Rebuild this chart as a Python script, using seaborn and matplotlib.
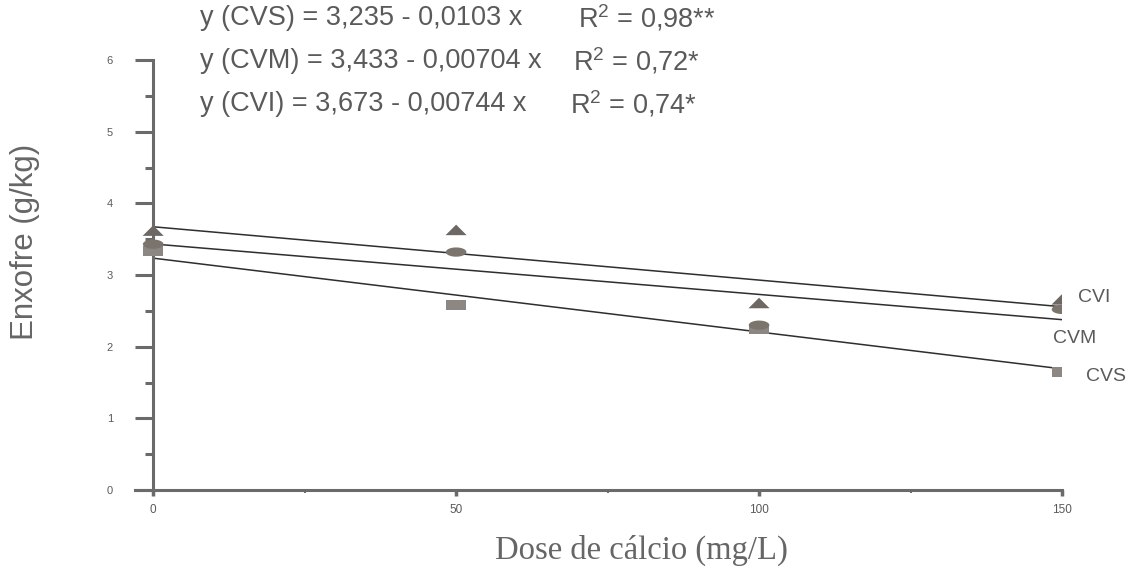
import matplotlib
matplotlib.use('Agg')
import matplotlib.pyplot as plt
from matplotlib.ticker import MultipleLocator
import numpy as np
import pandas as pd
import seaborn as sns

# doses (mg/L) and sulphur (g/kg)
doses = [0, 50, 100, 150]
cvi = [3.59, 3.60, 2.58, 2.63]
cvm = [3.43, 3.32, 2.30, 2.52]
cvs = [3.33, 2.58, 2.25, 1.65]

# fitted equations: intercept, slope
coef_cvs = (3.235, -0.0103)
coef_cvm = (3.433, -0.00704)
coef_cvi = (3.673, -0.00744)

sns.set_style('ticks')
plt.rcParams['font.family'] = ['Liberation Sans', 'DejaVu Sans']
plt.rcParams['mathtext.fontset'] = 'custom'
plt.rcParams['mathtext.rm'] = 'Liberation Sans'
plt.rcParams['mathtext.it'] = 'Liberation Sans'

grey = '#5a5a5a'

# flattened marker shapes like the scanned print
tri = [(-1, -0.3), (1, -0.3), (0, 0.7), (-1, -0.3)]
t = np.linspace(0, 2 * np.pi, 40)
ell = list(zip(np.cos(t), 0.45 * np.sin(t)))
sq = [(-1, -0.5), (1, -0.5), (1, 0.5), (-1, 0.5), (-1, -0.5)]

fig = plt.figure(figsize=(11.31, 5.68), dpi=100)
ax = fig.add_axes([135 / 1131, 1 - 490 / 568, 927 / 1131, 430 / 568])

xx = np.array([0, 150])
for (a, b) in [coef_cvi, coef_cvm, coef_cvs]:
    sns.lineplot(x=xx, y=a + b * xx, ax=ax, color='#2e2e2e', lw=1.1)

df = pd.DataFrame({'dose': doses * 3,
                   'S': cvs + cvm + cvi,
                   'grp': ['CVS'] * 4 + ['CVM'] * 4 + ['CVI'] * 4})
styles = {'CVS': (sq, '#8c8782', 210), 'CVM': (ell, '#7b746d', 220), 'CVI': (tri, '#6d6864', 230)}
for g in ['CVS', 'CVM', 'CVI']:
    m, c, s = styles[g]
    sns.scatterplot(data=df[df.grp == g], x='dose', y='S', marker=m, s=s,
                    color=c, edgecolor='none', ax=ax, zorder=3)

ax.set_xlim(-3, 150)
ax.set_ylim(0, 6)
ax.spines['left'].set_position(('data', 0))
ax.spines['left'].set_bounds(0, 6)
ax.spines['right'].set_visible(False)
ax.spines['top'].set_visible(False)
for sp in ['left', 'bottom']:
    ax.spines[sp].set_color('#6a6a6a')
    ax.spines[sp].set_linewidth(2.2)

ax.set_xticks([0, 50, 100, 150])
ax.set_xticklabels(['0', '50', '100', '150'])
ax.xaxis.set_minor_locator(MultipleLocator(25))
ax.yaxis.set_major_locator(MultipleLocator(1))
ax.yaxis.set_minor_locator(MultipleLocator(0.5))
ax.tick_params(axis='y', which='major', length=13, width=2.2, color='#6a6a6a',
               pad=16, labelsize=8, labelcolor=grey)
ax.tick_params(axis='y', which='minor', length=6, width=2.2, color='#6a6a6a')
ax.tick_params(axis='x', which='major', length=4, width=2.5, color='#6a6a6a',
               pad=6, labelsize=8.5, labelcolor=grey)
ax.tick_params(axis='x', which='minor', length=2, width=1.5, color='#6a6a6a')

ax.set_xlabel('')
ax.set_ylabel('')
fig.text(25 / 1131, 1 - 242 / 568, 'Enxofre (g/kg)', rotation=90, ha='center', va='center',
         fontsize=22.5, color='#666666')
fig.text(641 / 1131, 1 - 550 / 568, 'Dose de cálcio (mg/L)', ha='center', va='center',
         fontsize=23.5, color='#666666', family=['Liberation Serif', 'DejaVu Serif'])

eqs = ['y (CVS) = 3,235 - 0,0103 x', 'y (CVM) = 3,433 - 0,00704 x', 'y (CVI) = 3,673 - 0,00744 x']
r2 = ['R$^2$ = 0,98**', 'R$^2$ = 0,72*', 'R$^2$ = 0,74*']
r2x = [578, 573, 570]
for i, (e, r) in enumerate(zip(eqs, r2)):
    yy = 1 - (18 + 43 * i) / 568
    fig.text(200 / 1131, yy, e, fontsize=19.5, color=grey, va='center')
    fig.text(r2x[i] / 1131, yy, r, fontsize=19.5, color=grey, va='center')

ax.text(152.6, 2.69, 'CVI', fontsize=14, color=grey, va='center')
ax.text(148.5, 2.12, 'CVM', fontsize=14, color=grey, va='center')
ax.text(154.0, 1.59, 'CVS', fontsize=14, color=grey, va='center')

fig.savefig('out.png', dpi=100)
